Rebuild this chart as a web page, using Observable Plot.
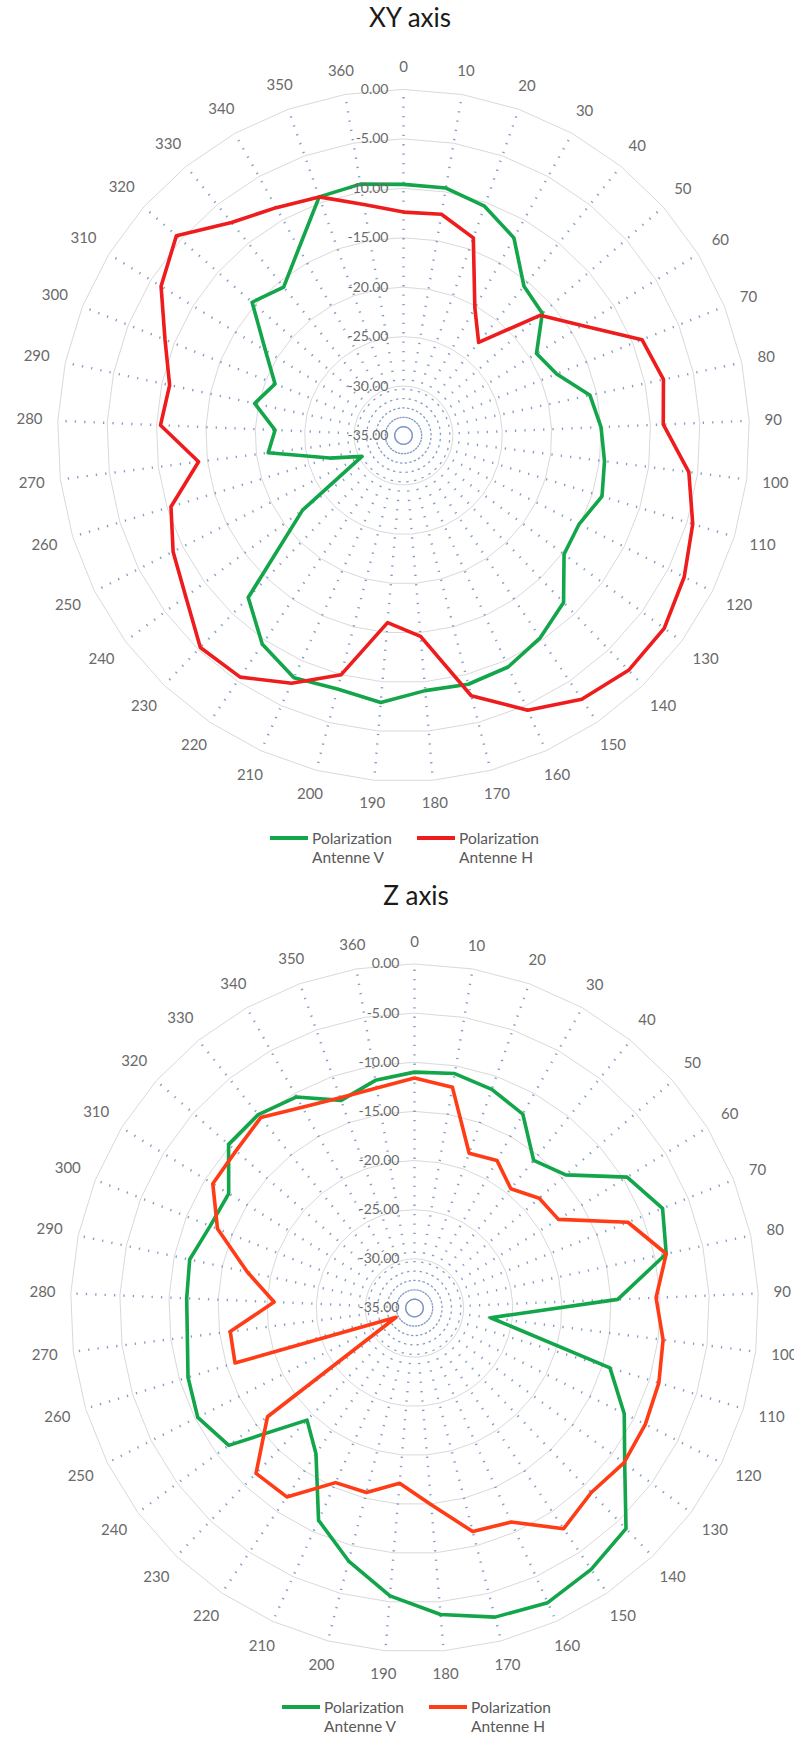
<!DOCTYPE html>
<html>
<head>
<meta charset="utf-8">
<script src="https://cdn.jsdelivr.net/npm/d3@7"></script>
<script src="https://cdn.jsdelivr.net/npm/@observablehq/plot@0.6"></script>
<style>
  body { margin: 0; background: #fff; font-family: Lato, "Open Sans", sans-serif; }
  #page { position: relative; width: 794px; height: 1738px; overflow: hidden; background: #fff; }
  .title { position: absolute; width: 300px; text-align: center; font-size: 26px; color: #1a1a1a; line-height: 30px; }
  .chart { position: absolute; left: 0; }
  .sw { position: absolute; height: 4px; }
  .lt { position: absolute; font-size: 15.5px; color: #595959; line-height: 19px; white-space: nowrap; }
</style>
</head>
<body>
<div id="page"></div>
<script>
// ---- data ----
const angleLabels = ["0","10","20","30","40","50","60","70","80","90","100","110","120","130","140","150","160","170","180","190","200","210","220","230","240","250","260","270","280","290","300","310","320","330","340","350","360"];
const ringValues = [0, -5, -10, -15, -20, -25, -30];
const tickValues = [0, -5, -10, -15, -20, -25, -30, -35];
const tickLabels = ["0.00", "-5.00", "-10.00", "-15.00", "-20.00", "-25.00", "-30.00", "-35.00"];
const seriesNames = ["Polarization Antenne V", "Polarization Antenne H"];

const xyV = [-9.6,-9.6,-10.4,-12.1,-15.6,-16.3,-19.2,-18.3,-15.7,-15.0,-14.5,-14.0,-15.1,-14.8,-11.6,-10.3,-9.3,-9.0,-9.1,-7.9,-8.5,-8.1,-9.5,-12.3,-22.3,-30.3,-27.2,-21.2,-22.0,-19.6,-21.0,-18.6,-14.6,-15.7,-13.3,-9.4,-9.2];
const xyH = [-12.4,-12.3,-13.8,-20.2,-22.9,-16.6,-13.8,-9.0,-8.1,-8.7,-5.9,-4.4,-3.2,-2.2,-2.1,-2.8,-4.5,-7.8,-14.6,-16.0,-10.0,-7.5,-5.5,-5.3,-7.6,-8.9,-10.4,-14.1,-10.4,-10.8,-9.0,-6.2,-4.4,-7.3,-8.6,-9.4,-11.3];
const zV = [-11.0,-10.8,-11.4,-12.4,-15.7,-14.5,-9.6,-7.8,-8.8,-14.3,-27.2,-14.2,-11.1,-8.4,-3.9,-2.9,-2.1,-2.5,-3.7,-5.6,-8.4,-11.3,-17.1,-19.2,-11.5,-10.3,-10.9,-11.7,-11.8,-11.6,-12.6,-12.8,-9.8,-9.7,-10.4,-12.6,-11.5];
const zH = [-11.6,-12.2,-18.3,-17.8,-19.4,-18.1,-17.8,-11.6,-8.8,-10.4,-9.5,-9.0,-8.7,-8.5,-9.0,-7.9,-11.1,-11.5,-14.9,-17.1,-15.6,-15.5,-11.8,-11.7,-16.4,-32.9,-15.9,-16.1,-20.7,-17.6,-13.4,-10.9,-10.8,-10.1,-11.6,-12.3,-12.3];

// ---- layout helpers ----
const page = document.getElementById("page");
const N = angleLabels.length;
const VMIN = -35, SPAN = 35;

function addDiv(cls, css, html) {
  const d = document.createElement("div");
  d.className = cls;
  Object.assign(d.style, css);
  d.innerHTML = html;
  page.appendChild(d);
  return d;
}

function polar(i, v) {
  const t = i * 2 * Math.PI / N;
  const r = v - VMIN;
  return {x: r * Math.sin(t), y: r * Math.cos(t)};
}

function makeChart(o) {
  const {V, H, colorV, colorH, cx, cy, R, top, height} = o;
  const cys = cy - top;
  const ppu = R / SPAN; // pixels per unit

  const rings = [];
  for (const rv of ringValues) for (let i = 0; i < N; i++) rings.push({ring: rv, ...polar(i, rv)});

  const spokes = angleLabels.map((l, i) => ({label: l, ...polar(i, 0)}));

  // category label placement: just outside the outer ring, depending on label size
  const catLabels = angleLabels.map((l, i) => {
    const t = i * 2 * Math.PI / N;
    const hw = l.length * 8.7 / 2, hh = 7;
    const rpx = R + 15 + hw * Math.abs(Math.sin(t)) + hh * Math.abs(Math.cos(t));
    const ru = rpx / ppu;
    return {label: l, x: ru * Math.sin(t), y: ru * Math.cos(t)};
  });

  const ticks = tickValues.map((v, k) => ({v, label: tickLabels[k], x: 0, y: v - VMIN}));

  const lineV = V.map((v, i) => ({series: seriesNames[0], ...polar(i, v)}));
  const lineH = H.map((v, i) => ({series: seriesNames[1], ...polar(i, v)}));

  const svg = Plot.plot({
    width: 794,
    height,
    margin: 0,
    x: {domain: [-SPAN, SPAN], range: [cx - R, cx + R], axis: null},
    y: {domain: [-SPAN, SPAN], range: [cys + R, cys - R], axis: null},
    style: {fontFamily: "Lato, 'Open Sans', sans-serif", background: "transparent"},
    marks: [
      Plot.line(rings, {x: "x", y: "y", z: "ring", curve: "linear-closed", stroke: "#d9d9d9", strokeWidth: 1}),
      Plot.link(spokes, {x1: () => 0, y1: () => 0, x2: "x", y2: "y", stroke: "#6f8bbd", strokeWidth: 2.4, strokeDasharray: "1.3,8.1", strokeDashoffset: 1.3, strokeOpacity: 0.85}),
      Plot.line(lineV, {x: "x", y: "y", curve: "linear-closed", stroke: colorV, strokeWidth: 3.6, strokeLinejoin: "round"}),
      Plot.line(lineH, {x: "x", y: "y", curve: "linear-closed", stroke: colorH, strokeWidth: 3.6, strokeLinejoin: "round"}),
      Plot.text(ticks, {x: "x", y: "y", text: "label", textAnchor: "end", dx: -15, fontSize: 14, fill: "#6a6a6a"}),
      Plot.text(catLabels, {x: "x", y: "y", text: "label", fontSize: 15, fill: "#6a6a6a"})
    ]
  });
  const wrap = addDiv("chart", {top: top + "px"}, "");
  wrap.appendChild(svg);
}

function legend(o) {
  const {y, x0, colorV, colorH} = o;
  addDiv("sw", {left: x0 + "px", width: "38px", top: (y - 2) + "px", background: colorV}, "");
  addDiv("lt", {left: (x0 + 42) + "px", top: (y - 9.5) + "px"}, "Polarization<br>Antenne V");
  addDiv("sw", {left: (x0 + 147) + "px", width: "38px", top: (y - 2) + "px", background: colorH}, "");
  addDiv("lt", {left: (x0 + 189) + "px", top: (y - 9.5) + "px"}, "Polarization<br>Antenne H");
}

// ---- chart 1: XY axis ----
addDiv("title", {left: (410 - 150) + "px", top: "2px"}, "XY axis");
makeChart({V: xyV, H: xyH, colorV: "#12a54a", colorH: "#ee1c1c", cx: 403, cy: 435, R: 346, top: 40, height: 780});
legend({y: 838, x0: 270, colorV: "#12a54a", colorH: "#ee1c1c"});

// ---- chart 2: Z axis ----
addDiv("title", {left: (416 - 150) + "px", top: "880px"}, "Z axis");
makeChart({V: zV, H: zH, colorV: "#12a54a", colorH: "#ff3c16", cx: 414, cy: 1307.5, R: 344, top: 920, height: 770});
legend({y: 1707, x0: 282, colorV: "#12a54a", colorH: "#ff3c16"});
</script>
</body>
</html>
